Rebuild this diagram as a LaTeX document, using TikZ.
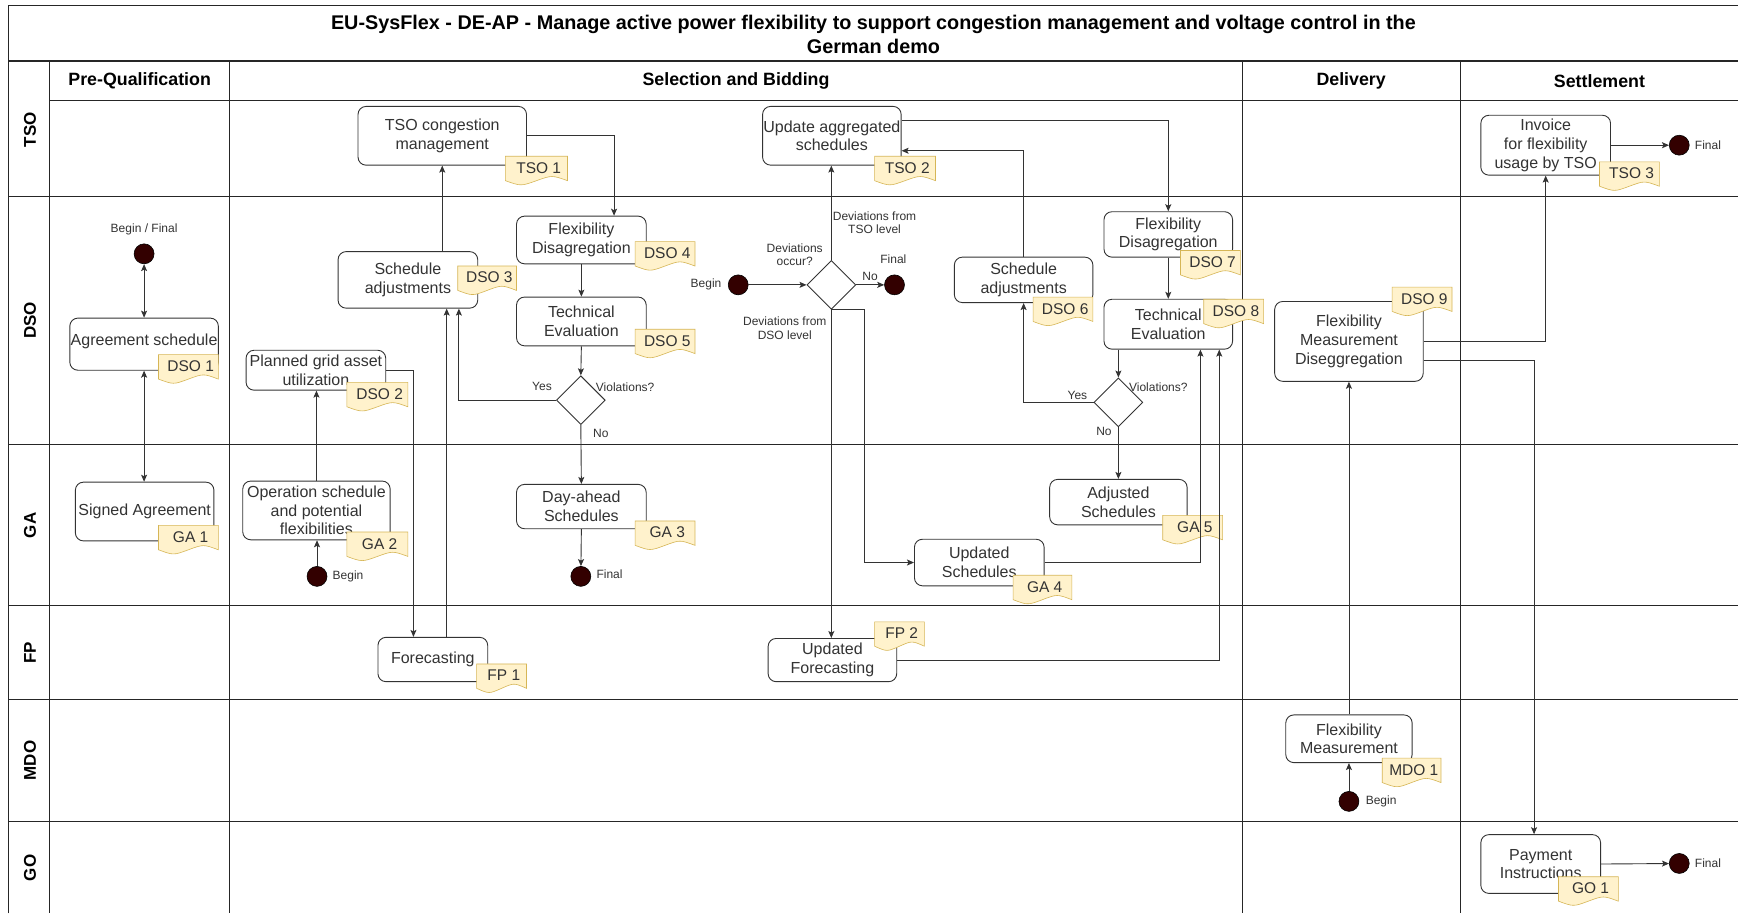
\documentclass[tikz,border=0pt]{standalone}
\usepackage{fontspec}
\setmainfont{Liberation Sans}
\usetikzlibrary{arrows.meta,shapes.geometric,calc}
\definecolor{tagfill}{HTML}{FFF2CC}
\definecolor{tagline}{HTML}{D6B656}
\definecolor{dotfill}{HTML}{330000}
\definecolor{ink}{HTML}{333333}
\def\U{1.1084pt}
% yellow document-shaped tag: name, left x, top y, width, text
\newcommand\doctag[5]{%
  \path[fill=tagfill,draw=tagline,line width=0.6pt]
    (#2,#3) -- (#2+#4,#3) -- (#2+#4,#3+22)
    .. controls (#2+0.75*#4,#3+17) .. (#2+0.5*#4,#3+22)
    .. controls (#2+0.25*#4,#3+27) .. (#2,#3+22) -- cycle;
  \node[tagtext] (#1) at (#2+0.5*#4+2,#3+10.5) {#5};
}
\begin{document}
\begin{tikzpicture}[x=1.1084pt,y=-1.1084pt,
  grid/.style={draw=black!85,line width=1.1pt},
  box/.style={draw=ink,rounded corners=8pt,line width=0.9pt,fill=white,align=center,
    text=ink,inner sep=0pt,font=\fontsize{16}{18.8}\selectfont},
  sz/.style 2 args={minimum width=#1*\U,minimum height=#2*\U},
  tagtext/.style={text=ink,inner sep=0pt,font=\fontsize{15.5}{18}\selectfont},
  dot/.style={circle,fill=dotfill,draw=black,line width=0.6pt,minimum size=18*\U,inner sep=0pt},
  decision/.style={diamond,draw=ink,line width=0.9pt,fill=white,minimum width=44*\U,minimum height=44*\U,inner sep=0pt},
  lbl/.style={text=ink,align=center,inner sep=0pt,font=\fontsize{12}{13.3}\selectfont},
  phase/.style={inner sep=0pt,font=\fontsize{17.8}{20}\selectfont\bfseries},
  lane/.style={inner sep=0pt,rotate=90,font=\fontsize{17}{20}\selectfont\bfseries},
  arr/.style={draw=ink,line width=0.9pt,-{Stealth[length=7pt,width=6pt,inset=1.5pt]}},
  arrboth/.style={draw=ink,line width=0.9pt,{Stealth[length=7pt,width=6pt,inset=1.5pt]}-{Stealth[length=7pt,width=6pt,inset=1.5pt]}}
]
\useasboundingbox[fill=white] (0,0) rectangle (1568,824);

% pool frame, phase columns and lanes
\draw[grid] (8,824) -- (8,5) -- (1568,5);
\draw[grid] (8,55) -- (1568,55);
\draw[grid] (45,91) -- (1568,91);
\foreach \y in {177,401,546,631,741} \draw[grid] (8,\y) -- (1568,\y);
\foreach \x in {45,207,1121,1318} \draw[grid] (\x,55) -- (\x,824);

\node[align=center,inner sep=0pt,font=\fontsize{19.8}{24.4}\selectfont\bfseries] (title) at (788,31)
  {EU-SysFlex - DE-AP - Manage active power flexibility to support congestion management and voltage control in the\\German demo};

\node[phase] (ph1) at (126,73) {Pre-Qualification};
\node[phase] (ph2) at (664,73) {Selection and Bidding};
\node[phase] (ph3) at (1219,73) {Delivery};
\node[phase] (ph4) at (1443,73) {Settlement};

\node[lane] (ltso) at (27,117) {TSO};
\node[lane] (ldso) at (27,289) {DSO};
\node[lane] (lga) at (27,474) {GA};
\node[lane] (lfp) at (27,589) {FP};
\node[lane] (lmdo) at (27,686) {MDO};
\node[lane] (lgo) at (27,783) {GO};

% activities
\node[box,sz={152}{53}] (tso1) at (399,122.5) {TSO congestion\\management};
\node[box,sz={125}{53}] (tso2) at (750.5,122.5) {Update aggregated\\schedules};
\node[box,sz={117}{54}] (tso3) at (1394.5,131) {Invoice\\for flexibility\\usage by TSO};
\node[box,sz={134}{47}] (dso1) at (130,310.5) {\raisebox{8pt}{Agreement schedule}};
\node[box,sz={126}{36}] (dso2) at (285,334) {Planned grid asset\\utilization};
\node[box,sz={126}{51}] (dso3) at (368,252.5) {Schedule\\adjustments};
\node[box,sz={117}{43}] (dso4) at (524.5,216.5) {Flexibility\\Disagregation};
\node[box,sz={117}{44}] (dso5) at (524.5,290) {Technical\\Evaluation};
\node[box,sz={125}{41}] (dso6) at (923.5,252.5) {Schedule\\adjustments};
\node[box,sz={116}{41}] (dso7) at (1054,211.5) {Flexibility\\Disagregation};
\node[box,sz={116}{45}] (dso8) at (1054,292.5) {Technical\\Evaluation};
\node[box,sz={134}{72}] (dso9) at (1217,308) {Flexibility\\Measurement\\Diseggregation};
\node[box,sz={125}{53}] (ga1) at (130.5,461.5) {Signed Agreement};
\node[box,sz={133}{53}] (ga2) at (285.5,460.5) {Operation schedule\\and potential\\flexibilities};
\node[box,sz={117}{40}] (ga3) at (524.5,457) {Day-ahead\\Schedules};
\node[box,sz={117}{42}] (ga4) at (883.5,507.5) {Updated\\Schedules};
\node[box,sz={124}{41}] (ga5) at (1009,453) {Adjusted\\Schedules};
\node[box,sz={99}{40}] (fp1) at (390.5,595) {Forecasting};
\node[box,sz={116}{39}] (fp2) at (751,595.5) {Updated\\Forecasting};
\node[box,sz={114}{43}] (mdo1) at (1217,666.5) {Flexibility\\Measurement};
\node[box,sz={108}{53}] (go1) at (1390,779.5) {Payment\\Instructions};

% decisions
\node[decision] (d1) at (524,361) {};
\node[decision] (d2) at (750,257) {};
\node[decision] (d3) at (1009,363) {};

% start / end points
\node[dot] (bf) at (130,229) {};
\node[dot] (bga) at (286,520) {};
\node[dot] (fga) at (524,520) {};
\node[dot] (bdev) at (666,257) {};
\node[dot] (fdev) at (807,257) {};
\node[dot] (ftso) at (1515,131) {};
\node[dot] (bmdo) at (1217,723) {};
\node[dot] (fgo) at (1515,779) {};

% role tags
\doctag{tso1t}{456}{141}{56}{TSO 1}
\doctag{tso2t}{789}{141}{55}{TSO 2}
\doctag{tso3t}{1443}{146}{54}{TSO 3}
\doctag{dso1t}{143}{320}{54}{DSO 1}
\doctag{dso2t}{313}{345}{55}{DSO 2}
\doctag{dso3t}{413}{240}{53}{DSO 3}
\doctag{dso4t}{573}{218}{54}{DSO 4}
\doctag{dso5t}{573}{297}{54}{DSO 5}
\doctag{dso6t}{932}{268}{54}{DSO 6}
\doctag{dso7t}{1065}{226}{54}{DSO 7}
\doctag{dso8t}{1086}{270}{54}{DSO 8}
\doctag{dso9t}{1256}{259}{54}{DSO 9}
\doctag{ga1t}{143}{474}{54}{GA 1}
\doctag{ga2t}{313}{480}{55}{GA 2}
\doctag{ga3t}{573}{470}{54}{GA 3}
\doctag{ga4t}{914}{519}{53}{GA 4}
\doctag{ga5t}{1049}{465}{54}{GA 5}
\doctag{fp1t}{430}{599}{45}{FP 1}
\doctag{fp2t}{789}{561}{45}{FP 2}
\doctag{mdo1t}{1247}{684}{53}{MDO 1}
\doctag{go1t}{1406}{791}{54}{GO 1}

% labels
\node[lbl] (lbf) at (130,207) {Begin / Final};
\node[lbl,anchor=west] (lbga) at (300,520) {Begin};
\node[lbl,anchor=west] (lfga) at (538,518) {Final};
\node[lbl,anchor=east] (lbdev) at (651,257) {Begin};
\node[lbl] (lfdev) at (806,234) {Final};
\node[lbl] (lno2) at (785,249) {No};
\node[lbl] (locc) at (717,230) {Deviations\\occur?};
\node[lbl] (ltsolvl) at (789,201) {Deviations from\\TSO level};
\node[lbl] (ldsolvl) at (708,296) {Deviations from\\DSO level};
\node[lbl] (lv1) at (564,349) {Violations?};
\node[lbl] (ly1) at (489,349) {Yes};
\node[lbl] (ln1) at (542,391) {No};
\node[lbl] (lv3) at (1045,349) {Violations?};
\node[lbl] (ly3) at (972,357) {Yes};
\node[lbl] (ln3) at (996,389) {No};
\node[lbl,anchor=west] (lftso) at (1529,131) {Final};
\node[lbl,anchor=west] (lfgo) at (1529,779) {Final};
\node[lbl,anchor=west] (lbmdo) at (1232,723) {Begin};

% channels of the routed connectors
\coordinate (k1) at (373,334);
\coordinate (k2) at (403,0);
\coordinate (k3) at (414,0);
\coordinate (k5) at (554,0);
\coordinate (k6) at (780,0);
\coordinate (k7) at (1083,0);
\coordinate (k8) at (1100,0);
\coordinate (k9) at (0,109);
\coordinate (k10) at (0,136);
\coordinate (k11) at (1384,325);

% connectors
\draw[arrboth] (bf) -- (dso1.north);
\draw[arrboth] (dso1.south) -- (dso1.south |- ga1.north);
\draw[arr] (bga) -- (bga |- ga2.south);
\draw[arr] (ga2.north) -- (ga2.north |- dso2.south);
\draw[arr] (dso2.east) -| (k1 |- fp1.north);
\draw[arr] (fp1.north -| k2) -- (k2 |- dso3.south);
\draw[arr] (d1.west) -| (k3 |- dso3.south);
\draw[arr] (dso3.north -| tso1.south) -- (tso1.south);
\draw[arr] (tso1.east) -| (k5 |- dso4.north);
\draw[arr] (dso4.south) -- (dso5.north);
\draw[arr] (dso5.south) -- (d1.north);
\draw[arr] (d1.south) -- (ga3.north);
\draw[arr] (ga3.south) -- (fga);
\draw[arr] (bdev) -- (d2.west);
\draw[arr] (d2.east) -- (fdev);
\draw[arr] (d2.north) -- (d2.north |- tso2.south);
\draw[arr] (d2.south) -- (d2.south |- fp2.north);
\draw[arr] (d2.south) -| (k6 |- ga4.west) -- (ga4.west);
\draw[arr] (ga4.east) -| (k7 |- dso8.south);
\draw[arr] (fp2.east) -| (k8 |- dso8.south);
\draw[arr] (tso2.east |- k9) -| (dso7.north);
\draw[arr] (dso7.south) -- (dso8.north);
\draw[arr] (d3.north |- dso8.south) -- (d3.north);
\draw[arr] (d3.south) -- (ga5.north);
\draw[arr] (d3.west) -| (dso6.south);
\draw[arr] (dso6.north) |- (tso2.east |- k10);
\draw[arr] (bmdo) -- (mdo1.south);
\draw[arr] (mdo1.north) -- (dso9.south);
\draw[arr] (dso9.east) -| (tso3.south);
\draw[arr] (dso9.east |- k11) -| (k11 |- go1.north);
\draw[arr] (tso3.east) -- (ftso);
\draw[arr] (go1.east) -- (fgo);
\end{tikzpicture}
\end{document}
